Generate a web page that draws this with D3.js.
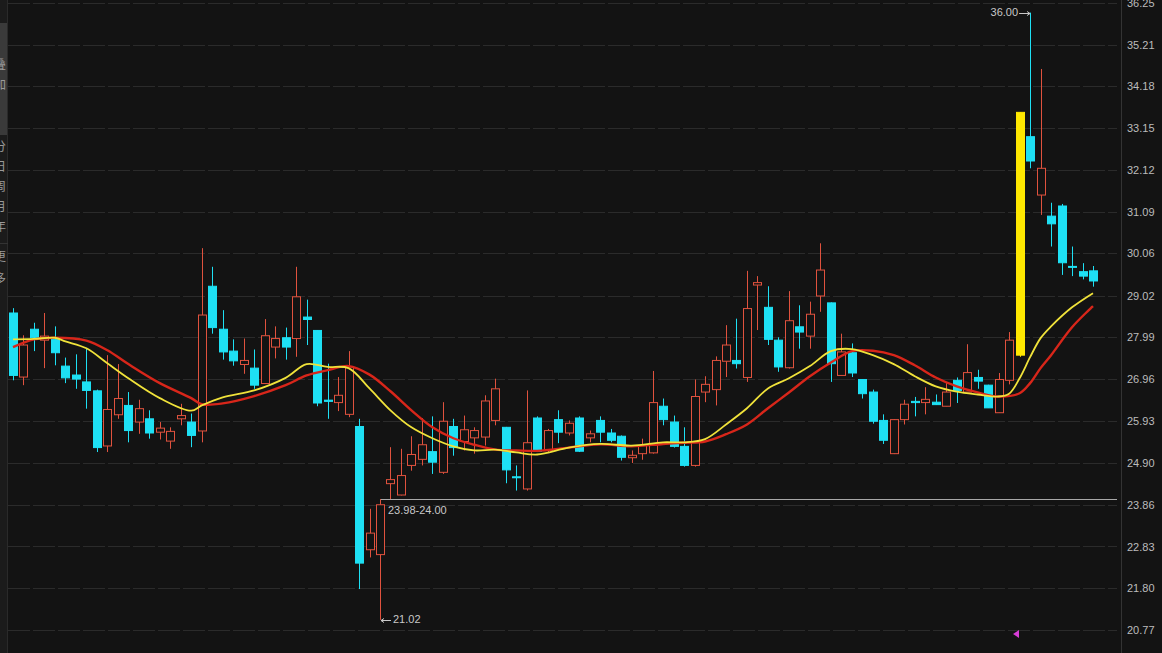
<!DOCTYPE html>
<html>
<head>
<meta charset="utf-8">
<script src="https://cdn.jsdelivr.net/npm/d3@7"></script>
<style>
  html, body { margin: 0; padding: 0; background: #131313; overflow: hidden; }
  svg { display: block; }
</style>
</head>
<body>
<svg id="chart" width="1162" height="653"></svg>
<script>
// daily candles, oldest first
const opens = [28.59,27.01,28.19,27.92,27.94,27.28,27.06,26.89,26.67,25.31,
  26.08,26.31,25.90,25.98,25.65,25.43,25.98,25.90,25.68,29.25,
  28.19,27.65,27.32,27.23,26.85,27.75,27.98,27.96,28.49,28.16,
  26.44,26.38,26.09,25.79,22.75,22.63,24.38,24.10,24.83,24.98,
  25.17,24.66,25.79,25.42,25.51,25.53,25.94,25.77,24.55,24.25,
  26.00,25.20,25.96,25.63,26.00,25.51,25.94,25.63,25.55,25.02,
  25.12,25.14,26.29,25.90,25.30,24.83,26.64,26.70,27.40,27.42,
  27.00,29.28,28.73,27.92,27.24,28.25,28.02,29.01,28.84,27.05,
  27.61,26.95,26.64,25.94,25.12,25.96,26.41,26.38,26.39,26.29,
  26.93,26.64,27.00,26.81,26.13,26.93,27.55,32.94,31.50,30.98,
  31.23,29.74,29.61,29.63];
const highs = [28.71,28.04,28.35,28.59,28.26,27.49,27.57,27.71,26.70,27.55,
  27.33,26.64,26.45,26.19,25.90,25.77,26.35,26.11,30.19,29.73,
  28.66,27.94,27.96,27.69,28.44,28.26,28.23,29.73,28.92,28.17,
  27.34,27.01,27.65,25.98,23.76,24.00,25.28,25.24,25.55,26.00,
  26.04,26.39,25.98,26.06,25.77,26.56,26.97,25.78,24.83,26.68,
  26.04,25.73,26.19,25.94,26.04,25.69,26.04,25.73,25.57,25.20,
  25.49,27.16,26.48,26.06,25.77,26.95,27.03,27.52,28.29,28.45,
  29.63,29.50,29.25,27.99,29.13,28.78,28.87,30.31,28.85,28.08,
  27.84,26.96,26.70,26.09,25.97,26.45,26.52,26.76,26.58,26.86,
  27.00,27.82,27.19,26.82,27.11,28.12,33.54,36.00,34.61,31.31,
  31.28,30.23,29.82,29.75];
const lows = [26.93,26.81,27.65,27.23,27.30,26.86,26.72,26.23,25.16,25.16,
  25.98,25.40,25.61,25.49,25.47,25.24,25.82,25.28,25.40,28.08,
  27.44,27.29,27.09,26.72,26.84,27.47,27.44,27.51,27.80,26.29,
  25.98,26.17,26.02,21.78,22.56,21.02,24.00,24.09,24.70,24.83,
  24.62,24.62,25.07,25.20,25.12,25.32,25.82,24.39,24.21,24.21,
  25.16,25.16,25.38,25.57,25.16,25.40,25.40,25.40,24.95,24.89,
  24.97,25.12,25.82,25.27,24.80,24.80,26.39,26.31,27.01,27.22,
  26.89,28.17,27.80,27.14,27.22,27.71,27.71,28.62,26.89,27.05,
  27.01,26.48,25.86,25.36,25.11,25.84,26.04,26.09,26.32,26.29,
  26.37,26.64,26.72,26.25,26.13,26.83,27.51,32.16,31.01,30.23,
  29.53,29.50,29.42,29.24];
const closes = [27.05,27.80,27.98,28.02,27.61,26.99,26.96,26.68,25.27,26.21,
  26.48,25.69,26.23,25.63,25.75,25.67,26.06,25.57,28.54,28.23,
  27.63,27.41,27.42,26.81,28.03,27.96,27.75,28.99,28.43,26.37,
  26.41,26.56,27.26,22.42,23.16,23.86,24.48,24.58,25.10,25.34,
  24.91,25.92,25.27,25.71,25.69,26.42,26.72,24.72,24.53,25.39,
  25.18,25.69,25.65,25.87,25.18,25.61,25.65,25.45,25.03,25.08,
  25.32,26.38,25.96,25.30,24.83,26.53,26.83,27.42,27.80,27.34,
  28.70,29.34,27.94,27.26,28.40,28.12,28.56,29.65,27.34,27.63,
  27.11,26.60,25.92,25.45,25.96,26.34,26.38,26.46,26.33,26.64,
  26.68,27.12,26.91,26.25,26.95,27.92,33.54,32.34,32.16,30.79,
  29.83,29.73,29.50,29.38];
const limitUpDays = [96];

// average lines: [candle index, price]
const yellowLine = [[0,27.94],[2,27.95],[4,27.98],[5,27.89],[7,27.72],[9,27.35],[11,26.98],
  [14,26.49],[17,26.18],[18,26.31],[20,26.51],[23,26.68],[26,26.99],[28,27.33],[30,27.26],
  [32,27.23],[34,26.73],[36,26.19],[38,25.77],[40,25.50],[42,25.30],[44,25.20],[46,25.22],
  [48,25.15],[50,25.10],[53,25.27],[56,25.36],[59,25.32],[62,25.40],[64,25.40],[66,25.48],
  [68,25.84],[70,26.24],[72,26.73],[74,26.98],[76,27.28],[78,27.65],[80,27.70],[82,27.55],
  [84,27.33],[86,27.03],[88,26.78],[90,26.65],[92,26.58],[94,26.53],[95,26.60],[96,26.98],
  [97,27.50],[98,27.97],[99,28.26],[101,28.73],[103,29.08]];
const redLine = [[0,27.75],[2,27.94],[4,27.98],[7,27.91],[9,27.67],[11,27.33],[14,26.86],
  [17,26.49],[18,26.34],[20,26.36],[23,26.54],[26,26.81],[28,27.05],[30,27.18],[32,27.28],
  [34,27.07],[36,26.66],[38,26.19],[40,25.77],[42,25.50],[44,25.34],[46,25.22],[48,25.20],
  [50,25.19],[53,25.27],[56,25.35],[59,25.30],[62,25.36],[64,25.39],[66,25.42],[68,25.60],
  [70,25.84],[72,26.24],[74,26.63],[76,27.03],[78,27.37],[80,27.65],[82,27.66],[84,27.55],
  [86,27.30],[88,27.00],[90,26.78],[92,26.63],[94,26.53],[96,26.61],[97,26.86],[98,27.23],
  [99,27.55],[101,28.24],[103,28.76]];

const yTicks = [36.25,35.21,34.18,33.15,32.12,31.09,30.06,29.02,27.99,26.96,25.93,24.90,23.86,22.83,21.80,20.77];
const sideLabels = ['叠', '加', '分', '日', '周', '月', '年', '更', '多'];

const W = 1162, H = 653;
const plotLeft = 8, plotRight = 1117;
const UP = '#e0523e', DOWN = '#1ee0f4', LIMIT = '#ffe800';

const svg = d3.select('#chart');
svg.append('rect').attr('width', W).attr('height', H).attr('fill', '#131313');

const n = closes.length;
const x = d3.scaleLinear().domain([0, n - 1]).range([13, 1093]);
const y = d3.scaleLinear().domain([20.77, 36.25]).range([630, 2.5]);
const bodyW = 8;

// dashed grid
svg.append('g')
  .selectAll('line')
  .data(yTicks)
  .join('line')
  .attr('x1', plotLeft).attr('x2', plotRight)
  .attr('y1', d => Math.round(y(d)) + 0.5).attr('y2', d => Math.round(y(d)) + 0.5)
  .attr('stroke', '#2b2b2b')
  .attr('stroke-dasharray', '22,3');

// right price axis
const axis = svg.append('g')
  .attr('transform', `translate(1121,0)`)
  .call(d3.axisRight(y).tickValues(yTicks).tickFormat(d3.format('.2f')).tickSize(0).tickPadding(6));
axis.select('.domain').remove();
axis.selectAll('text')
  .attr('fill', '#bcbcbc')
  .attr('font-family', 'Liberation Sans, Arial, sans-serif')
  .attr('font-size', 11);
svg.append('line')
  .attr('x1', 1121.5).attr('x2', 1121.5).attr('y1', 0).attr('y2', H)
  .attr('stroke', '#333');

// gap line from the high of the rebound candle
const gapIdx = 35;
svg.append('line')
  .attr('x1', x(gapIdx)).attr('x2', plotRight)
  .attr('y1', Math.round(y(highs[gapIdx])) + 0.5).attr('y2', Math.round(y(highs[gapIdx])) + 0.5)
  .attr('stroke', '#a8a8a8');
svg.append('text')
  .attr('x', x(gapIdx) + 8).attr('y', y(highs[gapIdx]) + 12)
  .attr('dominant-baseline', 'middle')
  .attr('fill', '#c8c8c8')
  .attr('font-family', 'Liberation Sans, Arial, sans-serif')
  .attr('font-size', 11)
  .text('23.98-24.00');

// candles
const candles = svg.append('g')
  .selectAll('g')
  .data(d3.range(n))
  .join('g');

candles.append('line')
  .attr('x1', i => Math.round(x(i)) + 0.5).attr('x2', i => Math.round(x(i)) + 0.5)
  .attr('y1', i => y(highs[i])).attr('y2', i => y(lows[i]))
  .attr('stroke', i => limitUpDays.includes(i) ? LIMIT : (closes[i] >= opens[i] ? UP : DOWN))
  .attr('stroke-width', 1);

candles.append('rect')
  .attr('x', i => Math.round(x(i)) + 0.5 - bodyW / 2)
  .attr('width', bodyW)
  .attr('y', i => y(Math.max(opens[i], closes[i])))
  .attr('height', i => Math.max(1, Math.abs(y(opens[i]) - y(closes[i]))))
  .attr('fill', i => limitUpDays.includes(i) ? LIMIT : (closes[i] >= opens[i] ? '#131313' : DOWN))
  .attr('stroke', i => limitUpDays.includes(i) ? LIMIT : (closes[i] >= opens[i] ? UP : DOWN))
  .attr('stroke-width', 1);

// average lines
const line = d3.line()
  .x(d => x(d[0]))
  .y(d => y(d[1]))
  .curve(d3.curveCatmullRom.alpha(0.5));

svg.append('path')
  .attr('d', line(redLine))
  .attr('fill', 'none')
  .attr('stroke', '#d8261a')
  .attr('stroke-width', 2.4);
svg.append('path')
  .attr('d', line(yellowLine))
  .attr('fill', 'none')
  .attr('stroke', '#f0e23a')
  .attr('stroke-width', 1.8);

// high / low markers
const hiIdx = d3.maxIndex(highs), loIdx = d3.minIndex(lows);
const hy = Math.round(y(highs[hiIdx])) + 0.5;
svg.append('line')
  .attr('x1', x(hiIdx) - 11).attr('x2', x(hiIdx))
  .attr('y1', hy).attr('y2', hy)
  .attr('stroke', '#c8c8c8');
svg.append('path')
  .attr('d', `M${x(hiIdx) - 3},${hy - 2}L${x(hiIdx)},${hy}L${x(hiIdx) - 3},${hy + 2}`)
  .attr('fill', 'none').attr('stroke', '#c8c8c8');
svg.append('text')
  .attr('x', x(hiIdx) - 12).attr('y', hy)
  .attr('text-anchor', 'end').attr('dominant-baseline', 'middle')
  .attr('fill', '#c8c8c8')
  .attr('font-family', 'Liberation Sans, Arial, sans-serif')
  .attr('font-size', 11)
  .text(d3.format('.2f')(highs[hiIdx]));

const ly = Math.round(y(lows[loIdx])) + 0.5;
svg.append('line')
  .attr('x1', x(loIdx) + 1).attr('x2', x(loIdx) + 11)
  .attr('y1', ly).attr('y2', ly)
  .attr('stroke', '#c8c8c8');
svg.append('path')
  .attr('d', `M${x(loIdx) + 4},${ly - 2}L${x(loIdx) + 1},${ly}L${x(loIdx) + 4},${ly + 2}`)
  .attr('fill', 'none').attr('stroke', '#c8c8c8');
svg.append('text')
  .attr('x', x(loIdx) + 13).attr('y', ly)
  .attr('dominant-baseline', 'middle')
  .attr('fill', '#c8c8c8')
  .attr('font-family', 'Liberation Sans, Arial, sans-serif')
  .attr('font-size', 11)
  .text(d3.format('.2f')(lows[loIdx]));

// little pink cursor marker near the bottom
svg.append('path')
  .attr('d', 'M1013,634L1019,630L1019,638Z')
  .attr('fill', '#d63cd6');

// left toolbar strip, mostly off-screen
const side = svg.append('g');
side.append('rect').attr('width', plotLeft).attr('height', H).attr('fill', '#1b1b1b');
side.append('rect').attr('y', 23).attr('width', plotLeft).attr('height', 112).attr('fill', '#3a3a3a');
side.append('line').attr('x1', plotLeft - 0.5).attr('x2', plotLeft - 0.5).attr('y1', 0).attr('y2', H).attr('stroke', '#2a2a2a');
side.append('line').attr('x1', 0).attr('x2', plotLeft).attr('y1', 243.5).attr('y2', 243.5).attr('stroke', '#333');
const sideY = [66, 86, 148, 168, 188, 208, 228, 258, 280];
side.selectAll('text')
  .data(sideLabels)
  .join('text')
  .attr('x', -6).attr('y', (d, i) => sideY[i])
  .attr('dominant-baseline', 'middle')
  .attr('fill', '#9a9a9a')
  .attr('font-family', 'Noto Sans CJK SC, sans-serif')
  .attr('font-size', 12)
  .text(d => d);
</script>
</body>
</html>
